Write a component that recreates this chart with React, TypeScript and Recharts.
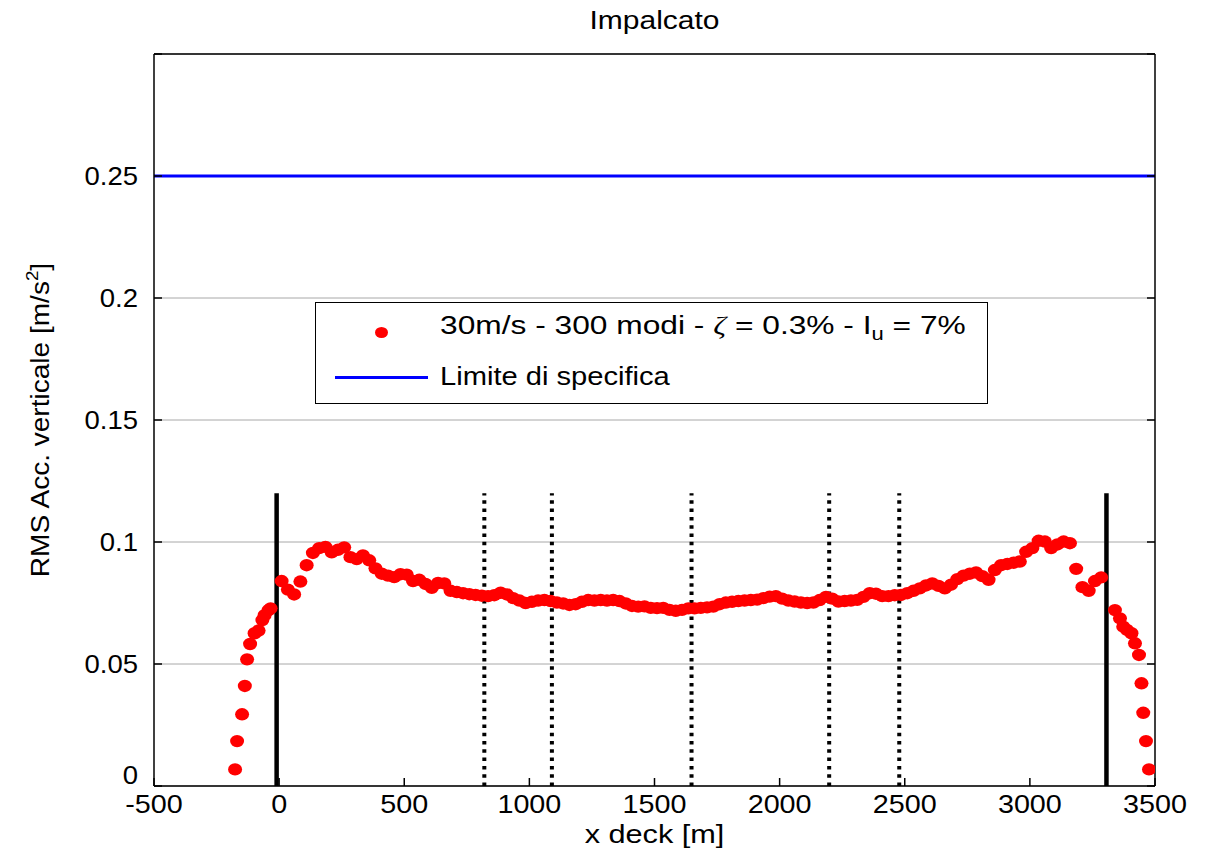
import React from "react";
import { ScatterChart, Scatter, XAxis, YAxis, CartesianGrid, ReferenceLine } from "recharts";

const FONT = "'Liberation Sans', Arial, Helvetica, sans-serif";

const xTicks = [-500, 0, 500, 1000, 1500, 2000, 2500, 3000, 3500];
const yTicks = [0, 0.05, 0.1, 0.15, 0.2, 0.25, 0.3];
const yTickLabels: Record<number, string> = { 0: "0", 0.05: "0.05", 0.1: "0.1", 0.15: "0.15", 0.2: "0.2", 0.25: "0.25", 0.3: "" };

const limitValue = 0.25;
const towerX = [-10, 3306];
const pierX = [820, 1090, 1648, 2198, 2478];
const markerTop = 0.12;

// cantilever / side spans (read one by one)
const leftTailX = [-176, -168, -148, -137, -128, -116, -98, -82, -67, -58, -42, -34];
const leftTailY = [0.0068, 0.0184, 0.0294, 0.041, 0.0519, 0.0582, 0.0626, 0.0637, 0.068, 0.07, 0.0721, 0.0728];
const rightTailX = [3340, 3360, 3373, 3388, 3406, 3420, 3436, 3446, 3453, 3464, 3476];
const rightTailY = [0.0721, 0.0687, 0.0653, 0.064, 0.0626, 0.0585, 0.0537, 0.0421, 0.03, 0.0184, 0.0068];

// main span, deck stations every 25 m starting at 10 m
const mainStart = 10;
const mainStep = 25;
const mainY = [
  0.084, 0.0805, 0.0785, 0.0838, 0.0905, 0.0955, 0.0975, 0.098, 0.0958, 0.0968,
  0.0978, 0.0938, 0.093, 0.0945, 0.0925, 0.0892, 0.087, 0.0862, 0.0856, 0.0868,
  0.0866, 0.084, 0.0845, 0.0828, 0.0812, 0.0832, 0.083, 0.08, 0.0795, 0.079,
  0.0786, 0.0783, 0.078, 0.0778, 0.0782, 0.0792, 0.0785, 0.077, 0.076, 0.075,
  0.0755, 0.076, 0.0762, 0.0758, 0.0752, 0.0748, 0.0742, 0.0745, 0.0755, 0.0762,
  0.076, 0.0762, 0.076, 0.0762, 0.0758, 0.0748, 0.0738, 0.0735, 0.0736, 0.073,
  0.0729, 0.073, 0.0722, 0.0718, 0.0722, 0.0728, 0.0728, 0.073, 0.0732, 0.0735,
  0.0745, 0.0752, 0.0755, 0.0758, 0.076, 0.0762, 0.0764, 0.077, 0.0776, 0.0778,
  0.0768, 0.076, 0.0756, 0.0752, 0.075, 0.0752, 0.0762, 0.0775, 0.0768, 0.0756,
  0.0758, 0.076, 0.0763, 0.0775, 0.079, 0.0788, 0.0778, 0.0778, 0.0782, 0.0783,
  0.079, 0.08, 0.081, 0.0822, 0.083, 0.082, 0.081, 0.0825, 0.0848, 0.0862,
  0.087, 0.0875, 0.086, 0.0845, 0.0885, 0.0905, 0.091, 0.0915, 0.092, 0.096,
  0.0975, 0.1005, 0.1002, 0.0975, 0.099, 0.1002, 0.0995, 0.089, 0.0815, 0.08,
  0.084, 0.0855,
];

const points = [
  ...leftTailX.map((x, i) => ({ x, y: leftTailY[i] })),
  ...mainY.map((y, i) => ({ x: mainStart + i * mainStep, y })),
  ...rightTailX.map((x, i) => ({ x, y: rightTailY[i] })),
];

const Dot = (p: any) => <ellipse cx={p.cx} cy={p.cy} rx={7} ry={6.2} fill="#ff0000" />;

const BottomTick = (p: any) => (
  <g>
    <line x1={p.x} y1={p.y} x2={p.x} y2={p.y - 8} stroke="#000" strokeWidth={1.5} />
    <text transform={`translate(${p.x},${p.y + 27}) scale(1.15,1)`} textAnchor="middle" fontSize={25} fontFamily={FONT} fill="#000">
      {p.payload.value}
    </text>
  </g>
);
const TopTick = (p: any) => (
  <line x1={p.x} y1={p.y} x2={p.x} y2={p.y + 8} stroke="#000" strokeWidth={1.5} />
);
const LeftTick = (p: any) => (
  <g>
    <line x1={p.x} y1={p.y} x2={p.x + 8} y2={p.y} stroke="#000" strokeWidth={1.5} />
    <text
      transform={`translate(${p.x - 16},${p.y + (p.payload.value === 0 ? -2 : 9)}) scale(1.1,1)`}
      textAnchor="end"
      fontSize={25}
      fontFamily={FONT}
      fill="#000"
    >
      {yTickLabels[p.payload.value] ?? ""}
    </text>
  </g>
);
const RightTick = (p: any) => (
  <line x1={p.x} y1={p.y} x2={p.x - 8} y2={p.y} stroke="#000" strokeWidth={1.5} />
);

const YLabel = (p: any) => {
  const vb = p.viewBox;
  const cx = vb.x + 40;
  const cy = vb.y + vb.height / 2;
  return (
    <text transform={`translate(${cx},${cy}) rotate(-90) scale(1.1,1)`} textAnchor="middle" fontSize={25.5} fontFamily={FONT} fill="#000" dy="0.35em">
      RMS Acc. verticale [m/s<tspan fontSize={17} dy={-11}>2</tspan><tspan dy={11}>]</tspan>
    </text>
  );
};
const XLabel = (p: any) => {
  const vb = p.viewBox;
  return (
    <text transform={`translate(${vb.x + vb.width / 2},${vb.y + 57}) scale(1.18,1)`} textAnchor="middle" fontSize={26} fontFamily={FONT} fill="#000">
      x deck [m]
    </text>
  );
};
const Title = (p: any) => {
  const vb = p.viewBox;
  return (
    <text transform={`translate(${vb.x + vb.width / 2},${vb.y + 29}) scale(1.2,1)`} textAnchor="middle" fontSize={25} fontFamily={FONT} fill="#000">
      Impalcato
    </text>
  );
};

const axisLine = { stroke: "#000", strokeWidth: 1.5 };

export default function App() {
  return (
    <div style={{ position: "relative", width: 1205, height: 853, background: "#fff" }}>
      <style>{"body{margin:0}"}</style>
      <ScatterChart width={1205} height={853} margin={{ top: 0, right: 0, bottom: 0, left: 0 }}>
        <CartesianGrid vertical={false} stroke="#a8a8a8" strokeWidth={1} />
        <XAxis
          dataKey="x"
          type="number"
          domain={[-500, 3500]}
          ticks={xTicks}
          interval={0}
          height={67}
          tickSize={0}
          tickMargin={0}
          tickLine={false}
          axisLine={axisLine}
          tick={BottomTick}
          allowDataOverflow
          label={{ content: XLabel } as any}
        />
        <XAxis
          xAxisId="top"
          orientation="top"
          type="number"
          domain={[-500, 3500]}
          ticks={xTicks}
          interval={0}
          height={54}
          tickSize={0}
          tickMargin={0}
          tickLine={false}
          axisLine={axisLine}
          tick={TopTick}
          allowDataOverflow
          label={{ content: Title } as any}
        />
        <YAxis
          dataKey="y"
          type="number"
          domain={[0, 0.3]}
          ticks={yTicks}
          interval={0}
          width={154}
          tickSize={0}
          tickMargin={0}
          tickLine={false}
          axisLine={axisLine}
          tick={LeftTick}
          allowDataOverflow
          label={{ content: YLabel } as any}
        />
        <YAxis
          yAxisId="right"
          orientation="right"
          type="number"
          domain={[0, 0.3]}
          ticks={yTicks}
          interval={0}
          width={50}
          tickSize={0}
          tickMargin={0}
          tickLine={false}
          axisLine={axisLine}
          tick={RightTick}
          allowDataOverflow
        />
        <ReferenceLine y={limitValue} stroke="#0000ff" strokeWidth={3} />
        <Scatter data={points} shape={Dot} isAnimationActive={false} />
        {towerX.map((x) => (
          <ReferenceLine
            key={`t${x}`}
            segment={[{ x, y: 0 }, { x, y: markerTop }]}
            stroke="#000"
            strokeWidth={4.5}
          />
        ))}
        {pierX.map((x) => (
          <ReferenceLine
            key={`p${x}`}
            segment={[{ x, y: 0 }, { x, y: markerTop }]}
            stroke="#000"
            strokeWidth={4}
            strokeDasharray="3.5 4.8"
          />
        ))}
      </ScatterChart>

      <div
        style={{
          position: "absolute",
          left: 315,
          top: 302,
          width: 673,
          height: 102,
          border: "1.5px solid #000",
          boxSizing: "border-box",
          background: "#fff",
          fontFamily: FONT,
          fontSize: 26,
          color: "#000",
        }}
      >
        <div style={{ position: "absolute", left: 59, top: 24, width: 13, height: 11, borderRadius: "50%", background: "#ff0000" }} />
        <div
          style={{
            position: "absolute",
            left: 124,
            top: 7,
            lineHeight: "30px",
            whiteSpace: "nowrap",
            transform: "scaleX(1.22)",
            transformOrigin: "left center",
          }}
        >
          30m/s - 300 modi - <span style={{ fontFamily: "'Liberation Serif', serif", fontStyle: "italic" }}>ζ</span> = 0.3% - I
          <sub style={{ fontSize: 18, verticalAlign: -6 }}>u</sub> = 7%
        </div>
        <div style={{ position: "absolute", left: 19, top: 73, width: 93, height: 3, background: "#0000ff" }} />
        <div
          style={{
            position: "absolute",
            left: 124,
            top: 58,
            lineHeight: "30px",
            whiteSpace: "nowrap",
            transform: "scaleX(1.12)",
            transformOrigin: "left center",
          }}
        >
          Limite di specifica
        </div>
      </div>
    </div>
  );
}
